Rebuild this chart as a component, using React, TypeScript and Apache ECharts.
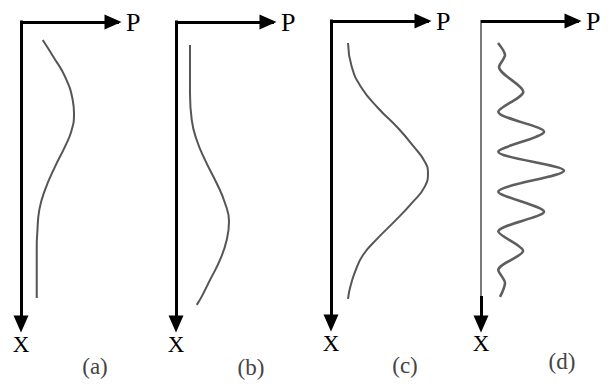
import React, { useEffect, useRef } from "react";
import * as echarts from "echarts";

// Probability profiles P along X, one panel per case: [P, X] pairs
const curveA: [number, number][] = [
  [2.36, 1.79], [3.51, 3.45], [4.78, 5.43], [5.62, 7.75], [5.76, 9.07],
  [5.51, 10.72], [4.78, 12.38], [3.7, 14.37], [2.61, 16.68], [1.99, 18.67],
  [1.77, 20.95], [1.71, 22.34], [1.71, 27.41],
];
const curveB: [number, number][] = [
  [1.52, 2.28], [1.52, 7.08], [1.71, 9.73], [2.25, 11.72], [3.15, 13.7],
  [4.42, 16.02], [5.33, 18.0], [5.76, 19.83], [5.51, 21.65], [4.78, 23.64],
  [3.7, 25.62], [2.79, 27.28], [2.25, 28.1],
];
const curveC: [number, number][] = [
  [1.85, 2.18], [2.23, 4.47], [3.26, 6.55], [5.11, 8.64], [7.28, 10.63],
  [9.02, 12.51], [10.18, 13.95], [10.54, 15.09], [10.22, 16.4], [8.8, 18.07],
  [6.96, 19.86], [5.11, 21.55], [3.48, 23.24], [2.61, 24.93], [2.07, 26.51],
  [1.85, 27.61],
];
const curveD: [number, number][] = [
  [1.85, 2.18], [2.61, 3.38], [1.96, 4.57], [4.6, 7.02], [1.88, 9.01],
  [6.85, 10.99], [1.88, 12.98], [9.02, 14.87], [1.88, 16.95], [6.85, 18.94],
  [1.88, 20.92], [4.57, 22.84], [1.88, 24.73], [2.61, 26.02], [2.07, 27.41],
];

const curves = [curveA, curveB, curveC, curveD];
const panelLabels = ["(a)", "(b)", "(c)", "(d)"];
const pName = "P";
const xName = "X";

// Axis ranges (P across, X downward)
const pMax = 10.65;
const xMax = 30;

const SERIF = "'Liberation Serif', 'DejaVu Serif', serif";

export default function App() {
  const ref = useRef<HTMLDivElement>(null);

  useEffect(() => {
    if (!ref.current) return;
    const chart = echarts.init(ref.current, null, { renderer: "svg" });

    const origins = [
      { left: 21, top: 22 },
      { left: 176, top: 22 },
      { left: 331, top: 21 },
      { left: 481, top: 21 },
    ];
    const labelPos = [
      [95, 366],
      [251, 367],
      [405, 365],
      [562, 361],
    ];
    const arrowSize = [15, 17];

    const hiddenAxis = {
      axisLine: { show: false },
      axisTick: { show: false },
      axisLabel: { show: false },
      splitLine: { show: false },
    };

    const grid: any[] = origins.map((o) => ({
      left: o.left,
      top: o.top,
      width: 98,
      height: 302,
    }));
    // darker lower stretch of the X axis in panel (d)
    grid.push({ left: 481, top: 296, width: 10, height: 28 });

    const xAxis: any[] = origins.map((_, i) => ({
      type: "value",
      gridIndex: i,
      position: "top",
      min: 0,
      max: pMax,
      name: pName,
      nameLocation: "end",
      nameGap: 7,
      nameTextStyle: {
        fontFamily: SERIF,
        fontSize: 26,
        color: "#000",
        align: "left",
        verticalAlign: "middle",
        padding: [0, 0, 4, 0],
      },
      axisLine: {
        show: true,
        onZero: false,
        symbol: ["none", "triangle"],
        symbolSize: arrowSize,
        symbolOffset: [0, -6],
        lineStyle: { color: "#000", width: 3, cap: "butt" },
      },
      axisTick: { show: false },
      axisLabel: { show: false },
      splitLine: { show: false },
    }));
    xAxis.push({ type: "value", gridIndex: 4, show: false, ...hiddenAxis });

    const yName = (i: number) => ({
      name: xName,
      nameLocation: "end",
      nameGap: i === 4 ? 19 : 20,
      nameTextStyle: {
        fontFamily: SERIF,
        fontSize: 23,
        color: "#000",
        align: "center",
        verticalAlign: "middle",
      },
    });

    const yAxis: any[] = origins.map((_, i) => ({
      type: "value",
      gridIndex: i,
      inverse: true,
      position: "left",
      min: 0,
      max: xMax,
      ...(i === 3 ? {} : yName(i)),
      axisLine: {
        show: true,
        onZero: false,
        symbol: i === 3 ? ["none", "none"] : ["triangle", "none"],
        symbolSize: arrowSize,
        lineStyle: {
          color: i === 3 ? "#7a7a7a" : "#000",
          width: i === 3 ? 2 : 3,
          cap: "square",
        },
      },
      axisTick: { show: false },
      axisLabel: { show: false },
      splitLine: { show: false },
    }));
    yAxis.push({
      type: "value",
      gridIndex: 4,
      inverse: true,
      position: "left",
      min: 0,
      max: 1,
      ...yName(4),
      axisLine: {
        show: true,
        onZero: false,
        symbol: ["triangle", "none"],
        symbolSize: arrowSize,
        lineStyle: { color: "#000", width: 3, cap: "butt" },
      },
      axisTick: { show: false },
      axisLabel: { show: false },
      splitLine: { show: false },
    });

    const series = curves.map((data, i) => ({
      type: "line",
      xAxisIndex: i,
      yAxisIndex: i,
      data,
      smooth: i === 3 ? 0.27 : 0.5,
      showSymbol: false,
      clip: false,
      silent: true,
      lineStyle: { color: i === 3 ? "#5e5e5e" : "#555", width: i === 3 ? 2.6 : 2 },
    }));

    const graphic = panelLabels.map((t, i) => ({
      type: "text",
      x: labelPos[i][0],
      y: labelPos[i][1],
      style: {
        text: t,
        fontFamily: SERIF,
        fontSize: 23,
        fill: "#444",
        align: "center",
        verticalAlign: "middle",
      },
    }));

    chart.setOption({
      animation: false,
      backgroundColor: "#fff",
      grid,
      xAxis,
      yAxis,
      series,
      graphic,
    } as any);

    return () => chart.dispose();
  }, []);

  return (
    <div
      ref={ref}
      style={{ position: "fixed", left: 0, top: 0, width: 611, height: 385 }}
    />
  );
}
